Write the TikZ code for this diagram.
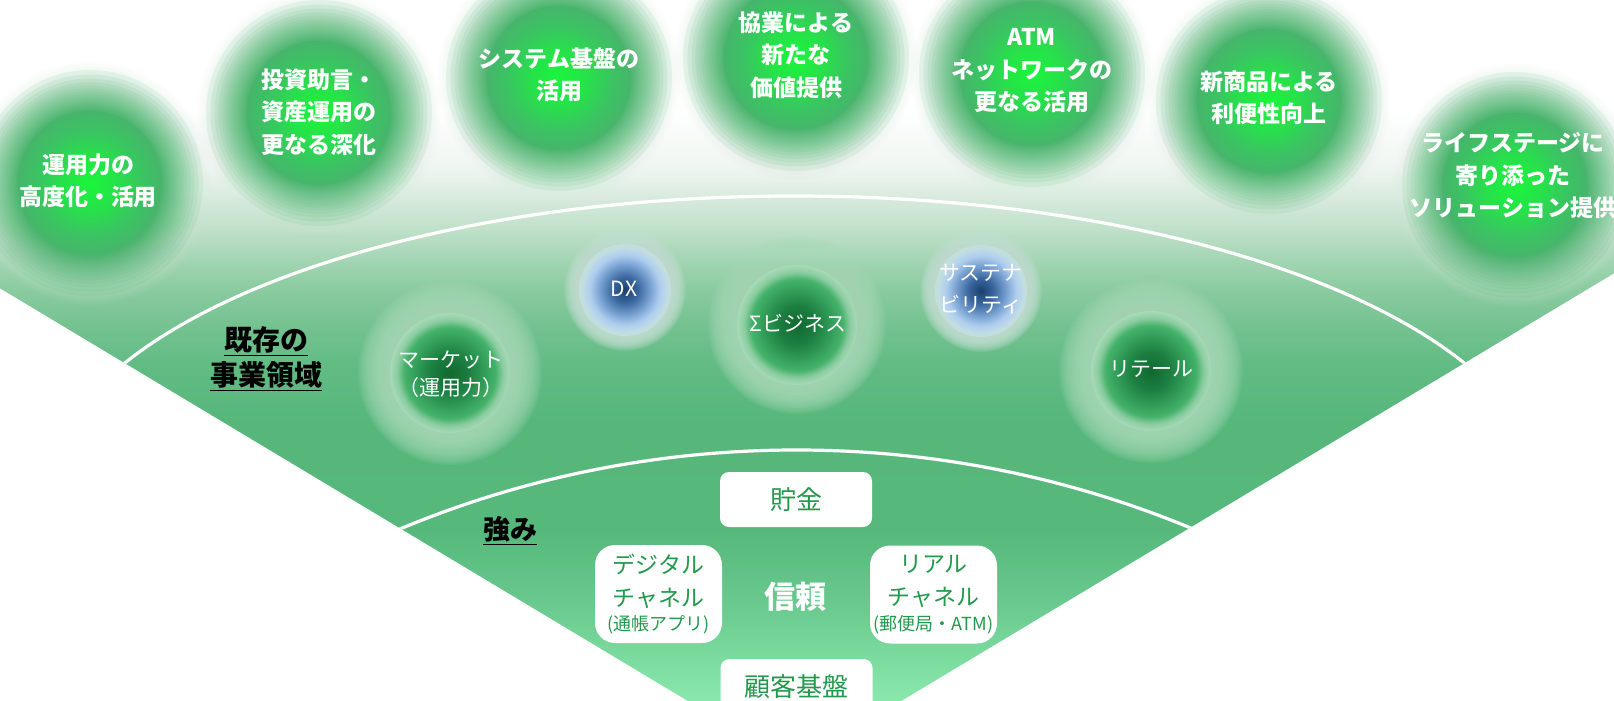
\documentclass[tikz,border=0pt]{standalone}
\usepackage{fontspec}
\setmainfont{Noto Sans CJK JP}
% fan gradient colours
\definecolor{f701}{HTML}{8AE8AC}
\definecolor{f650}{HTML}{79D89B}
\definecolor{f600}{HTML}{68C88D}
\definecolor{f530}{HTML}{56B87B}
\definecolor{f420}{HTML}{57B77B}
\definecolor{f370}{HTML}{60BB82}
\definecolor{f330}{HTML}{72C18F}
\definecolor{f290}{HTML}{8ACB9F}
\definecolor{f260}{HTML}{A3D5B3}
\definecolor{f230}{HTML}{BFE0C9}
\definecolor{f200}{HTML}{D6E9DC}
\definecolor{f170}{HTML}{EEF5F0}
% top disks
\definecolor{tdA}{HTML}{1AF53A}
\definecolor{tdB}{HTML}{27E04B}
\definecolor{tdC}{HTML}{3AC462}
\definecolor{tdD}{HTML}{46B56B}
\definecolor{tglow}{HTML}{DCEFE2}
% middle green disks
\definecolor{gA}{HTML}{11692F}
\definecolor{gB}{HTML}{1C7F41}
\definecolor{gC}{HTML}{34A05B}
\definecolor{gD}{HTML}{45B26A}
\definecolor{gE}{HTML}{8ACCA0}
\definecolor{gF}{HTML}{A8DAB8}
% blue disks
\definecolor{bA}{HTML}{1B3F6E}
\definecolor{bB}{HTML}{3A679E}
\definecolor{bC}{HTML}{7AA3D3}
\definecolor{bD}{HTML}{AECDEE}
\definecolor{bE}{HTML}{C0DCE6}
\definecolor{bF}{HTML}{C4E0D4}
\definecolor{boxgreen}{HTML}{22994C}

\pgfdeclareverticalshading{fanshade}{100bp}{color(0bp)=(f701); color(25bp)=(f701); color(28.64bp)=(f650); color(32.2bp)=(f600); color(37.2bp)=(f530); color(45.04bp)=(f420); color(48.61bp)=(f370); color(51.46bp)=(f330); color(54.32bp)=(f290); color(56.46bp)=(f260); color(58.6bp)=(f230); color(60.74bp)=(f200); color(62.87bp)=(f170); color(67.15bp)=(white); color(100bp)=(white)}
\pgfdeclareradialshading{topdisk}{\pgfpointorigin}{color(0bp)=(tdA); color(10bp)=(tdB); color(18bp)=(tdC); color(25bp)=(tdD); color(50bp)=(tdD)}
\pgfdeclareradialshading{greendisk}{\pgfpointorigin}{color(0bp)=(gA); color(8bp)=(gB); color(15bp)=(gC); color(19bp)=(gD); color(22bp)=(gE); color(25bp)=(gF); color(50bp)=(gF)}
\pgfdeclareradialshading{bluedisk}{\pgfpointorigin}{color(0bp)=(bA); color(7bp)=(bB); color(14bp)=(bC); color(19bp)=(bD); color(23bp)=(bE); color(25bp)=(bF); color(50bp)=(bF)}

% stacked translucent discs, uniform radii: x, y, inner radius, outer radius, colour, opacity of each
\newcommand{\softring}[6]{%
  \foreach \k in {0,...,19}{%
    \pgfmathsetmacro{\grad}{#4-(#4-#3)*\k/20}%
    \fill[#5, fill opacity=#6] (#1,#2) circle (\grad);
  }%
}
% stacked discs giving a linear opacity ramp: x, y, inner radius, outer radius, colour
\newcommand{\linring}[5]{%
  \foreach \k in {1,...,30}{%
    \pgfmathsetmacro{\grad}{#4-(#4-#3)*(1-0.9^\k)/(1-0.9^30)}%
    \fill[#5, fill opacity=0.1] (#1,#2) circle (\grad);
  }%
}
% top circle: x, y
\newcommand{\topcircle}[2]{%
  \softring{#1}{#2}{88}{122}{tglow}{0.045}%
  \linring{#1}{#2}{70}{118}{tdD}%
  \shade[shading=topdisk] (#1,#2) circle (72);
}
% middle circle: x, y, disk radius, glow radius, shading, glow colour
\newcommand{\midcircle}[6]{%
  \softring{#1}{#2}{#3}{#4}{#6}{0.12}%
  \shade[shading=#5] (#1,#2) circle (#3);
}

\begin{document}
\begin{tikzpicture}[x=0.5pt,y=-0.5pt,
  toptext/.style={text=white, font=\bfseries\fontsize{11.5}{16.25}\selectfont, align=center, inner sep=0pt},
  midtext/.style={text=white, font=\fontsize{10.5}{14}\selectfont, align=center, inner sep=0pt},
  sectlabel/.style={text=black, font=\bfseries\fontsize{14}{17.5}\selectfont, align=center, inner sep=0pt},
  wbox/.style={fill=white, text=boxgreen, align=center, inner sep=0pt},
  arcline/.style={white, line width=1.6pt}]
\useasboundingbox (0,0) rectangle (1614,701);
\clip (0,0) rectangle (1614,701);
\fill[white] (0,0) rectangle (1614,701);

% fan
\begin{scope}
  \clip (794.5,765) -- (-300,108.3) -- (-300,-50) -- (1914,-50) -- (1914,93.3) -- cycle;
  \shade[shading=fanshade] (0,0) rectangle (1614,701);
  \draw[arcline] (794.5,500) ellipse [x radius=750, y radius=304];
  \draw[arcline] (796.5,1481.6) circle [radius=1031.6];
\end{scope}

% top circles
\topcircle{90}{183}
\topcircle{319}{113}
\topcircle{559}{78}
\topcircle{796}{58}
\topcircle{1032}{74}
\topcircle{1269}{101}
\topcircle{1515}{185}

% middle circles
\midcircle{450}{373}{60}{92}{greendisk}{gF}
\midcircle{625}{290}{46}{61}{bluedisk}{bF}
\midcircle{797}{325}{60}{89}{greendisk}{gF}
\midcircle{981}{291}{46}{61}{bluedisk}{bF}
\midcircle{1151}{371}{60}{92}{greendisk}{gF}

% top texts
\node[toptext] (t1) at (88,181) {運用力の\\高度化・活用};
\node[toptext] (t2) at (319,112) {投資助言・\\資産運用の\\更なる深化};
\node[toptext] (t3) at (559,75) {システム基盤の\\活用};
\node[toptext] (t4) at (796,55) {協業による\\新たな\\価値提供};
\node[toptext] (t5) at (1032,71) {ATM\\ネットワークの\\更なる活用};
\node[toptext] (t6) at (1269,98) {新商品による\\利便性向上};
\node[toptext] (t7) at (1513,176) {ライフステージに\\寄り添った\\ソリューション提供};

% middle texts
\node[midtext] (mk) at (451,374) {マーケット\\（運用力）};
\node[midtext] (dx) at (624,289) {DX};
\node[midtext] (sg) at (798,323) {Σビジネス};
\node[midtext, font=\fontsize{10.5}{16}\selectfont] (su) at (981,289) {サステナ\\ビリティ};
\node[midtext] (rt) at (1151,369) {リテール};

% section labels
\node[sectlabel] (kizon) at (266,359) {\underline{既存の}\\\underline{事業領域}};
\node[sectlabel, font=\bfseries\fontsize{13.5}{16}\selectfont] (tsuyomi) at (510,531) {\underline{強み}};

% strengths
\node[wbox, rounded corners=4.5pt, minimum width=76pt, minimum height=27.5pt, font=\fontsize{13}{15}\selectfont] (chokin) at (796,499.5) {貯金};
\node[wbox, rounded corners=10pt, minimum width=63.5pt, minimum height=49pt, font=\fontsize{11.5}{16.5}\selectfont] (digi) at (658.5,594) {デジタル\\チャネル\\[-4.2pt]{\fontsize{9}{10}\selectfont (通帳アプリ)}};
\node[wbox, rounded corners=10pt, minimum width=63.5pt, minimum height=49pt, font=\fontsize{11.5}{16.5}\selectfont] (real) at (933.5,594.5) {リアル\\チャネル\\[-4.2pt]{\fontsize{9}{10}\selectfont (郵便局・ATM)}};
\node[wbox, rounded corners=4.5pt, minimum width=76pt, minimum height=27.5pt, font=\fontsize{13}{15}\selectfont] (kokyaku) at (796.5,686.5) {顧客基盤};
\node[text=white, font=\bfseries\fontsize{15.5}{18}\selectfont, inner sep=0pt] (shinrai) at (795,597) {信頼};
\end{tikzpicture}
\end{document}
